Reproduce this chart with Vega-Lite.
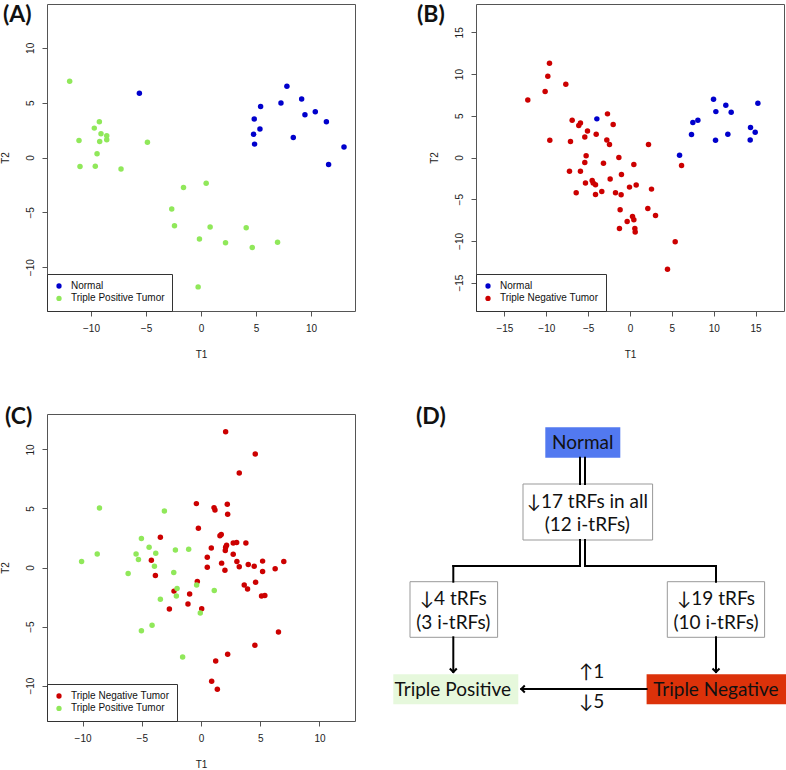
{
  "$schema": "https://vega.github.io/schema/vega-lite/v6.json",
  "autosize": "none",
  "padding": {"left": 47, "top": 4, "right": 739, "bottom": 766},
  "background": "white",
  "columns": 2,
  "spacing": {"row": 103, "column": 121},
  "bounds": "flush",
  "datasets": {
    "pts": [
      {"p":"A","g":"Normal","T1":-5.6,"T2":5.85},{"p":"A","g":"Normal","T1":7.81,"T2":6.49},{"p":"A","g":"Normal","T1":7.27,"T2":4.97},{"p":"A","g":"Normal","T1":9.15,"T2":5.34},{"p":"A","g":"Normal","T1":5.42,"T2":4.66},{"p":"A","g":"Normal","T1":4.84,"T2":3.51},{"p":"A","g":"Normal","T1":9.45,"T2":3.9},{"p":"A","g":"Normal","T1":10.39,"T2":4.18},{"p":"A","g":"Normal","T1":11.4,"T2":3.26},{"p":"A","g":"Normal","T1":5.36,"T2":2.59},{"p":"A","g":"Normal","T1":4.78,"T2":2.13},{"p":"A","g":"Normal","T1":8.39,"T2":1.83},{"p":"A","g":"Normal","T1":4.87,"T2":1.22},{"p":"A","g":"Normal","T1":13.0,"T2":0.95},{"p":"A","g":"Normal","T1":11.6,"T2":-0.64},
      {"p":"A","g":"Triple Positive Tumor","T1":-11.94,"T2":6.95},{"p":"A","g":"Triple Positive Tumor","T1":-9.24,"T2":3.26},{"p":"A","g":"Triple Positive Tumor","T1":-9.7,"T2":2.68},{"p":"A","g":"Triple Positive Tumor","T1":-9.09,"T2":2.16},{"p":"A","g":"Triple Positive Tumor","T1":-8.57,"T2":1.98},{"p":"A","g":"Triple Positive Tumor","T1":-8.57,"T2":1.62},{"p":"A","g":"Triple Positive Tumor","T1":-11.09,"T2":1.55},{"p":"A","g":"Triple Positive Tumor","T1":-9.21,"T2":1.46},{"p":"A","g":"Triple Positive Tumor","T1":-4.87,"T2":1.4},{"p":"A","g":"Triple Positive Tumor","T1":-9.45,"T2":0.34},{"p":"A","g":"Triple Positive Tumor","T1":-11.0,"T2":-0.82},{"p":"A","g":"Triple Positive Tumor","T1":-9.61,"T2":-0.79},{"p":"A","g":"Triple Positive Tumor","T1":-7.27,"T2":-1.04},{"p":"A","g":"Triple Positive Tumor","T1":0.47,"T2":-2.35},{"p":"A","g":"Triple Positive Tumor","T1":-1.59,"T2":-2.74},{"p":"A","g":"Triple Positive Tumor","T1":-2.66,"T2":-4.7},{"p":"A","g":"Triple Positive Tumor","T1":-2.41,"T2":-6.22},{"p":"A","g":"Triple Positive Tumor","T1":0.83,"T2":-6.34},{"p":"A","g":"Triple Positive Tumor","T1":4.11,"T2":-6.4},{"p":"A","g":"Triple Positive Tumor","T1":-0.14,"T2":-7.44},{"p":"A","g":"Triple Positive Tumor","T1":2.23,"T2":-7.77},{"p":"A","g":"Triple Positive Tumor","T1":6.96,"T2":-7.74},{"p":"A","g":"Triple Positive Tumor","T1":4.66,"T2":-8.2},{"p":"A","g":"Triple Positive Tumor","T1":-0.26,"T2":-11.8},
      {"p":"B","g":"Normal","T1":-3.96,"T2":4.63},{"p":"B","g":"Normal","T1":9.98,"T2":6.98},{"p":"B","g":"Normal","T1":11.45,"T2":6.26},{"p":"B","g":"Normal","T1":10.26,"T2":5.5},{"p":"B","g":"Normal","T1":12.09,"T2":5.42},{"p":"B","g":"Normal","T1":15.28,"T2":6.5},{"p":"B","g":"Normal","T1":8.11,"T2":4.47},{"p":"B","g":"Normal","T1":7.51,"T2":4.19},{"p":"B","g":"Normal","T1":7.35,"T2":2.75},{"p":"B","g":"Normal","T1":11.69,"T2":2.79},{"p":"B","g":"Normal","T1":10.22,"T2":2.07},{"p":"B","g":"Normal","T1":14.4,"T2":3.59},{"p":"B","g":"Normal","T1":14.96,"T2":3.03},{"p":"B","g":"Normal","T1":14.36,"T2":2.11},{"p":"B","g":"Normal","T1":5.92,"T2":0.28},
      {"p":"B","g":"Triple Negative Tumor","T1":-9.62,"T2":11.29},{"p":"B","g":"Triple Negative Tumor","T1":-9.82,"T2":9.73},{"p":"B","g":"Triple Negative Tumor","T1":-7.67,"T2":8.78},{"p":"B","g":"Triple Negative Tumor","T1":-10.14,"T2":7.9},{"p":"B","g":"Triple Negative Tumor","T1":-12.21,"T2":6.9},{"p":"B","g":"Triple Negative Tumor","T1":-2.69,"T2":5.23},{"p":"B","g":"Triple Negative Tumor","T1":-6.91,"T2":4.47},{"p":"B","g":"Triple Negative Tumor","T1":-5.92,"T2":4.15},{"p":"B","g":"Triple Negative Tumor","T1":-6.12,"T2":3.83},{"p":"B","g":"Triple Negative Tumor","T1":-2.01,"T2":3.95},{"p":"B","g":"Triple Negative Tumor","T1":-5.08,"T2":3.19},{"p":"B","g":"Triple Negative Tumor","T1":-4.04,"T2":2.79},{"p":"B","g":"Triple Negative Tumor","T1":-5.4,"T2":2.47},{"p":"B","g":"Triple Negative Tumor","T1":-9.58,"T2":2.07},{"p":"B","g":"Triple Negative Tumor","T1":-2.77,"T2":2.11},{"p":"B","g":"Triple Negative Tumor","T1":-7.11,"T2":1.91},{"p":"B","g":"Triple Negative Tumor","T1":-2.45,"T2":1.56},{"p":"B","g":"Triple Negative Tumor","T1":2.21,"T2":1.56},{"p":"B","g":"Triple Negative Tumor","T1":-5.24,"T2":0.2},{"p":"B","g":"Triple Negative Tumor","T1":-1.33,"T2":0.0},{"p":"B","g":"Triple Negative Tumor","T1":-5.4,"T2":-0.6},{"p":"B","g":"Triple Negative Tumor","T1":-3.17,"T2":-0.68},{"p":"B","g":"Triple Negative Tumor","T1":0.46,"T2":-0.84},{"p":"B","g":"Triple Negative Tumor","T1":6.16,"T2":-0.96},{"p":"B","g":"Triple Negative Tumor","T1":-7.23,"T2":-1.64},{"p":"B","g":"Triple Negative Tumor","T1":-5.92,"T2":-1.64},{"p":"B","g":"Triple Negative Tumor","T1":-1.02,"T2":-2.03},{"p":"B","g":"Triple Negative Tumor","T1":-2.37,"T2":-2.59},{"p":"B","g":"Triple Negative Tumor","T1":-4.52,"T2":-2.75},{"p":"B","g":"Triple Negative Tumor","T1":-4.4,"T2":-3.07},{"p":"B","g":"Triple Negative Tumor","T1":-4.12,"T2":-3.27},{"p":"B","g":"Triple Negative Tumor","T1":-5.32,"T2":-3.07},{"p":"B","g":"Triple Negative Tumor","T1":-0.06,"T2":-3.55},{"p":"B","g":"Triple Negative Tumor","T1":0.74,"T2":-3.31},{"p":"B","g":"Triple Negative Tumor","T1":2.57,"T2":-3.79},{"p":"B","g":"Triple Negative Tumor","T1":-6.43,"T2":-4.23},{"p":"B","g":"Triple Negative Tumor","T1":-3.37,"T2":-4.07},{"p":"B","g":"Triple Negative Tumor","T1":-1.73,"T2":-4.23},{"p":"B","g":"Triple Negative Tumor","T1":-4.12,"T2":-4.43},{"p":"B","g":"Triple Negative Tumor","T1":-1.06,"T2":-4.47},{"p":"B","g":"Triple Negative Tumor","T1":2.13,"T2":-6.1},{"p":"B","g":"Triple Negative Tumor","T1":-1.18,"T2":-6.26},{"p":"B","g":"Triple Negative Tumor","T1":3.05,"T2":-6.94},{"p":"B","g":"Triple Negative Tumor","T1":0.3,"T2":-7.06},{"p":"B","g":"Triple Negative Tumor","T1":0.46,"T2":-7.46},{"p":"B","g":"Triple Negative Tumor","T1":-0.34,"T2":-7.66},{"p":"B","g":"Triple Negative Tumor","T1":-1.26,"T2":-8.5},{"p":"B","g":"Triple Negative Tumor","T1":0.58,"T2":-8.5},{"p":"B","g":"Triple Negative Tumor","T1":0.62,"T2":-8.93},{"p":"B","g":"Triple Negative Tumor","T1":5.4,"T2":-10.09},{"p":"B","g":"Triple Negative Tumor","T1":4.48,"T2":-13.4},
      {"p":"C","g":"Triple Negative Tumor","T1":2.08,"T2":11.49},{"p":"C","g":"Triple Negative Tumor","T1":4.58,"T2":9.61},{"p":"C","g":"Triple Negative Tumor","T1":3.23,"T2":8.0},{"p":"C","g":"Triple Negative Tumor","T1":-0.39,"T2":5.41},{"p":"C","g":"Triple Negative Tumor","T1":1.1,"T2":5.07},{"p":"C","g":"Triple Negative Tumor","T1":1.18,"T2":4.87},{"p":"C","g":"Triple Negative Tumor","T1":2.22,"T2":5.35},{"p":"C","g":"Triple Negative Tumor","T1":2.25,"T2":4.51},{"p":"C","g":"Triple Negative Tumor","T1":-0.22,"T2":3.32},{"p":"C","g":"Triple Negative Tumor","T1":-3.43,"T2":2.56},{"p":"C","g":"Triple Negative Tumor","T1":1.6,"T2":2.68},{"p":"C","g":"Triple Negative Tumor","T1":1.71,"T2":2.79},{"p":"C","g":"Triple Negative Tumor","T1":3.79,"T2":2.08},{"p":"C","g":"Triple Negative Tumor","T1":2.72,"T2":2.08},{"p":"C","g":"Triple Negative Tumor","T1":3.01,"T2":2.11},{"p":"C","g":"Triple Negative Tumor","T1":2.16,"T2":1.89},{"p":"C","g":"Triple Negative Tumor","T1":2.08,"T2":1.72},{"p":"C","g":"Triple Negative Tumor","T1":0.87,"T2":1.66},{"p":"C","g":"Triple Negative Tumor","T1":2.05,"T2":1.44},{"p":"C","g":"Triple Negative Tumor","T1":2.72,"T2":1.13},{"p":"C","g":"Triple Negative Tumor","T1":0.53,"T2":0.87},{"p":"C","g":"Triple Negative Tumor","T1":-4.19,"T2":0.62},{"p":"C","g":"Triple Negative Tumor","T1":3.03,"T2":0.51},{"p":"C","g":"Triple Negative Tumor","T1":5.2,"T2":0.54},{"p":"C","g":"Triple Negative Tumor","T1":6.99,"T2":0.51},{"p":"C","g":"Triple Negative Tumor","T1":1.74,"T2":0.37},{"p":"C","g":"Triple Negative Tumor","T1":3.99,"T2":0.25},{"p":"C","g":"Triple Negative Tumor","T1":0.53,"T2":0.03},{"p":"C","g":"Triple Negative Tumor","T1":3.23,"T2":0.06},{"p":"C","g":"Triple Negative Tumor","T1":4.49,"T2":0.11},{"p":"C","g":"Triple Negative Tumor","T1":6.26,"T2":-0.11},{"p":"C","g":"Triple Negative Tumor","T1":2.02,"T2":-0.23},{"p":"C","g":"Triple Negative Tumor","T1":5.2,"T2":-0.34},{"p":"C","g":"Triple Negative Tumor","T1":-3.85,"T2":-0.68},{"p":"C","g":"Triple Negative Tumor","T1":-0.31,"T2":-1.18},{"p":"C","g":"Triple Negative Tumor","T1":4.61,"T2":-1.24},{"p":"C","g":"Triple Negative Tumor","T1":3.65,"T2":-1.49},{"p":"C","g":"Triple Negative Tumor","T1":3.93,"T2":-1.83},{"p":"C","g":"Triple Negative Tumor","T1":-2.28,"T2":-2.0},{"p":"C","g":"Triple Negative Tumor","T1":-0.96,"T2":-2.25},{"p":"C","g":"Triple Negative Tumor","T1":5.11,"T2":-2.42},{"p":"C","g":"Triple Negative Tumor","T1":5.39,"T2":-2.37},{"p":"C","g":"Triple Negative Tumor","T1":-1.1,"T2":-3.1},{"p":"C","g":"Triple Negative Tumor","T1":-2.67,"T2":-3.52},{"p":"C","g":"Triple Negative Tumor","T1":0.06,"T2":-3.49},{"p":"C","g":"Triple Negative Tumor","T1":6.54,"T2":-5.46},{"p":"C","g":"Triple Negative Tumor","T1":4.55,"T2":-6.59},{"p":"C","g":"Triple Negative Tumor","T1":2.25,"T2":-7.35},{"p":"C","g":"Triple Negative Tumor","T1":1.24,"T2":-7.92},{"p":"C","g":"Triple Negative Tumor","T1":0.9,"T2":-9.63},{"p":"C","g":"Triple Negative Tumor","T1":1.38,"T2":-10.31},
      {"p":"C","g":"Triple Positive Tumor","T1":-8.57,"T2":5.04},{"p":"C","g":"Triple Positive Tumor","T1":-3.09,"T2":4.79},{"p":"C","g":"Triple Positive Tumor","T1":-5.03,"T2":2.45},{"p":"C","g":"Triple Positive Tumor","T1":-4.38,"T2":1.72},{"p":"C","g":"Triple Positive Tumor","T1":-8.76,"T2":1.15},{"p":"C","g":"Triple Positive Tumor","T1":-5.48,"T2":1.15},{"p":"C","g":"Triple Positive Tumor","T1":-3.82,"T2":1.21},{"p":"C","g":"Triple Positive Tumor","T1":-2.16,"T2":1.49},{"p":"C","g":"Triple Positive Tumor","T1":-1.04,"T2":1.55},{"p":"C","g":"Triple Positive Tumor","T1":-10.08,"T2":0.51},{"p":"C","g":"Triple Positive Tumor","T1":-5.28,"T2":0.68},{"p":"C","g":"Triple Positive Tumor","T1":-3.93,"T2":0.11},{"p":"C","g":"Triple Positive Tumor","T1":-6.15,"T2":-0.51},{"p":"C","g":"Triple Positive Tumor","T1":-2.3,"T2":-0.42},{"p":"C","g":"Triple Positive Tumor","T1":-2.02,"T2":-1.77},{"p":"C","g":"Triple Positive Tumor","T1":-0.37,"T2":-1.49},{"p":"C","g":"Triple Positive Tumor","T1":1.12,"T2":-1.94},{"p":"C","g":"Triple Positive Tumor","T1":-2.08,"T2":-2.42},{"p":"C","g":"Triple Positive Tumor","T1":-3.43,"T2":-2.68},{"p":"C","g":"Triple Positive Tumor","T1":-0.06,"T2":-3.86},{"p":"C","g":"Triple Positive Tumor","T1":-4.13,"T2":-4.9},{"p":"C","g":"Triple Positive Tumor","T1":-5.03,"T2":-5.35},{"p":"C","g":"Triple Positive Tumor","T1":-1.55,"T2":-7.58}
    ],
    "boxes": [
      {"x":129.7,"x2":259.3,"y":99,"y2":155},
      {"x":16.7,"x2":104.3,"y":196.7,"y2":252.3},
      {"x":274,"x2":371.3,"y":196.7,"y2":252.3}
    ],
    "labels": [
      {"name":"Normal","x":152,"x2":227,"y":42.3,"y2":72.7},
      {"name":"Triple Positive","x":0,"x2":125,"y":289.3,"y2":319.3},
      {"name":"Triple Negative","x":253.3,"x2":393,"y":289.3,"y2":319.3}
    ],
    "lines": [
      {"x":186.7,"y":72.7,"x2":186.7,"y2":99},
      {"x":191.7,"y":72.7,"x2":191.7,"y2":99},
      {"x":186.7,"y":155,"x2":186.7,"y2":181},
      {"x":191.7,"y":155,"x2":191.7,"y2":181},
      {"x":60,"y":181,"x2":186.7,"y2":181},
      {"x":191.7,"y":181,"x2":322.7,"y2":181},
      {"x":60,"y":181,"x2":60,"y2":196.7},
      {"x":322.7,"y":181,"x2":322.7,"y2":196.7},
      {"x":60,"y":252.3,"x2":60,"y2":287},
      {"x":322.7,"y":252.3,"x2":322.7,"y2":287},
      {"x":253.3,"y":304,"x2":128,"y2":304}
    ],
    "heads": [
      {"dir":"down","x":60,"y":287},
      {"dir":"down","x":322.7,"y":287},
      {"dir":"left","x":128,"y":304}
    ],
    "texts": [
      {"t":"Normal","x":189.5,"y":57.5},
      {"t":"↓17 tRFs in all","x":194,"y":116.7},
      {"t":"(12 i-tRFs)","x":194,"y":140},
      {"t":"↓4 tRFs","x":60,"y":214.3},
      {"t":"(3 i-tRFs)","x":60,"y":238.3},
      {"t":"↓19 tRFs","x":322.7,"y":214.3},
      {"t":"(10 i-tRFs)","x":322.7,"y":238.3},
      {"t":"Triple Positive","x":59.5,"y":305},
      {"t":"Triple Negative","x":322.5,"y":305},
      {"t":"↑1","x":198.3,"y":286.7},
      {"t":"↓5","x":198.3,"y":316.7}
    ]
  },
  "concat": [
    {
      "width": 308, "height": 307,
      "title": {"text": "(A)", "dx": -44, "dy": 27},
      "data": {"name": "pts"},
      "transform": [{"filter": "datum.p === 'A'"}],
      "mark": {"type": "circle", "size": 30, "opacity": 1},
      "encoding": {
        "x": {"field": "T1", "type": "quantitative", "scale": {"domain": [-14, 14], "nice": false, "zero": false}, "axis": {"values": [-10, -5, 0, 5, 10], "title": "T1"}},
        "y": {"field": "T2", "type": "quantitative", "scale": {"domain": [-14, 14], "nice": false, "zero": false}, "axis": {"values": [-10, -5, 0, 5, 10], "title": "T2"}},
        "color": {"field": "g", "type": "nominal", "scale": {"domain": ["Normal", "Triple Positive Tumor"], "range": ["#0000CC", "#90E85A"]}, "legend": {"title": null, "orient": "bottom-left"}}
      }
    },
    {
      "width": 308, "height": 307,
      "title": {"text": "(B)", "dx": -59, "dy": 27},
      "data": {"name": "pts"},
      "transform": [{"filter": "datum.p === 'B'"}],
      "mark": {"type": "circle", "size": 30, "opacity": 1},
      "encoding": {
        "x": {"field": "T1", "type": "quantitative", "scale": {"domain": [-18.4, 18.4], "nice": false, "zero": false}, "axis": {"values": [-15, -10, -5, 0, 5, 10, 15], "title": "T1"}},
        "y": {"field": "T2", "type": "quantitative", "scale": {"domain": [-18.4, 18.4], "nice": false, "zero": false}, "axis": {"values": [-15, -10, -5, 0, 5, 10, 15], "title": "T2"}},
        "color": {"field": "g", "type": "nominal", "scale": {"domain": ["Normal", "Triple Negative Tumor"], "range": ["#0000CC", "#CC0000"]}, "legend": {"title": null, "orient": "bottom-left"}}
      }
    },
    {
      "width": 308, "height": 307,
      "title": {"text": "(C)", "dx": -42, "dy": 19},
      "data": {"name": "pts"},
      "transform": [{"filter": "datum.p === 'C'"}],
      "mark": {"type": "circle", "size": 30, "opacity": 1},
      "encoding": {
        "x": {"field": "T1", "type": "quantitative", "scale": {"domain": [-13, 13], "nice": false, "zero": false}, "axis": {"values": [-10, -5, 0, 5, 10], "title": "T1"}},
        "y": {"field": "T2", "type": "quantitative", "scale": {"domain": [-13, 13], "nice": false, "zero": false}, "axis": {"values": [-10, -5, 0, 5, 10], "title": "T2"}},
        "color": {"field": "g", "type": "nominal", "scale": {"domain": ["Triple Negative Tumor", "Triple Positive Tumor"], "range": ["#CC0000", "#90E85A"]}, "legend": {"title": null, "orient": "bottom-left"}}
      }
    },
    {
      "width": 308, "height": 307,
      "title": {"text": "(D)", "dx": -60, "dy": 19},
      "view": {"stroke": null},
      "layer": [
        {
          "data": {"name": "labels"},
          "mark": {"type": "rect"},
          "encoding": {
            "x": {"field": "x", "type": "quantitative", "scale": {"domain": [82.7, 390.7], "nice": false, "zero": false}, "axis": null},
            "x2": {"field": "x2"},
            "y": {"field": "y", "type": "quantitative", "scale": {"domain": [29, 336], "nice": false, "zero": false, "reverse": true}, "axis": null},
            "y2": {"field": "y2"},
            "fill": {"field": "name", "type": "nominal", "scale": {"domain": ["Normal", "Triple Positive", "Triple Negative"], "range": ["#5279F0", "#E6F8DC", "#DC320A"]}, "legend": null}
          }
        },
        {
          "data": {"name": "boxes"},
          "mark": {"type": "rect", "fill": "white", "stroke": "#999999", "strokeWidth": 1},
          "encoding": {
            "x": {"field": "x", "type": "quantitative"},
            "x2": {"field": "x2"},
            "y": {"field": "y", "type": "quantitative"},
            "y2": {"field": "y2"}
          }
        },
        {
          "data": {"name": "lines"},
          "mark": {"type": "rule", "color": "black", "strokeWidth": 2, "strokeCap": "square"},
          "encoding": {
            "x": {"field": "x", "type": "quantitative"},
            "x2": {"field": "x2"},
            "y": {"field": "y", "type": "quantitative"},
            "y2": {"field": "y2"}
          }
        },
        {
          "data": {"name": "heads"},
          "mark": {"type": "point", "filled": false, "stroke": "black", "strokeWidth": 2, "size": 49, "opacity": 1, "strokeJoin": "miter"},
          "encoding": {
            "x": {"field": "x", "type": "quantitative"},
            "y": {"field": "y", "type": "quantitative"},
            "shape": {"field": "dir", "type": "nominal", "scale": {"domain": ["down", "left"], "range": ["M -1 -1 L 0 0 L 1 -1", "M 1 -1 L 0 0 L 1 1"]}, "legend": null}
          }
        },
        {
          "data": {"name": "texts"},
          "mark": {"type": "text", "font": "Lato, DejaVu Sans", "fontSize": 19, "color": "#111111", "baseline": "middle", "align": "center"},
          "encoding": {
            "x": {"field": "x", "type": "quantitative"},
            "y": {"field": "y", "type": "quantitative"},
            "text": {"field": "t"}
          }
        }
      ]
    }
  ],
  "resolve": {"scale": {"color": "independent", "x": "independent", "y": "independent"}, "legend": {"color": "independent"}},
  "config": {
    "font": "Liberation Sans",
    "view": {"stroke": "#555555", "strokeWidth": 1},
    "title": {"font": "Lato", "fontSize": 23, "fontWeight": "bold", "anchor": "start", "frame": "group", "baseline": "alphabetic", "offset": 0, "color": "#111111"},
    "axis": {"domain": false, "grid": false, "ticks": true, "tickColor": "#555555", "tickSize": 5, "labelFont": "Liberation Sans", "labelFontSize": 10, "labelColor": "#222222", "titleFont": "Liberation Sans", "titleFontSize": 10, "titleFontWeight": "normal", "titleColor": "#222222"},
    "axisX": {"labelPadding": 7, "titlePadding": 16},
    "axisY": {"labelAngle": -90, "labelAlign": "center", "labelBaseline": "bottom", "labelPadding": 7, "titlePadding": 15},
    "legend": {"offset": 0, "strokeColor": "#333333", "fillColor": "white", "padding": 7, "labelFont": "Liberation Sans", "labelFontSize": 10, "labelColor": "#111111", "symbolSize": 28, "symbolType": "circle", "symbolStrokeWidth": 0, "rowPadding": 2.4, "labelOffset": 7, "cornerRadius": 0}
  }
}
